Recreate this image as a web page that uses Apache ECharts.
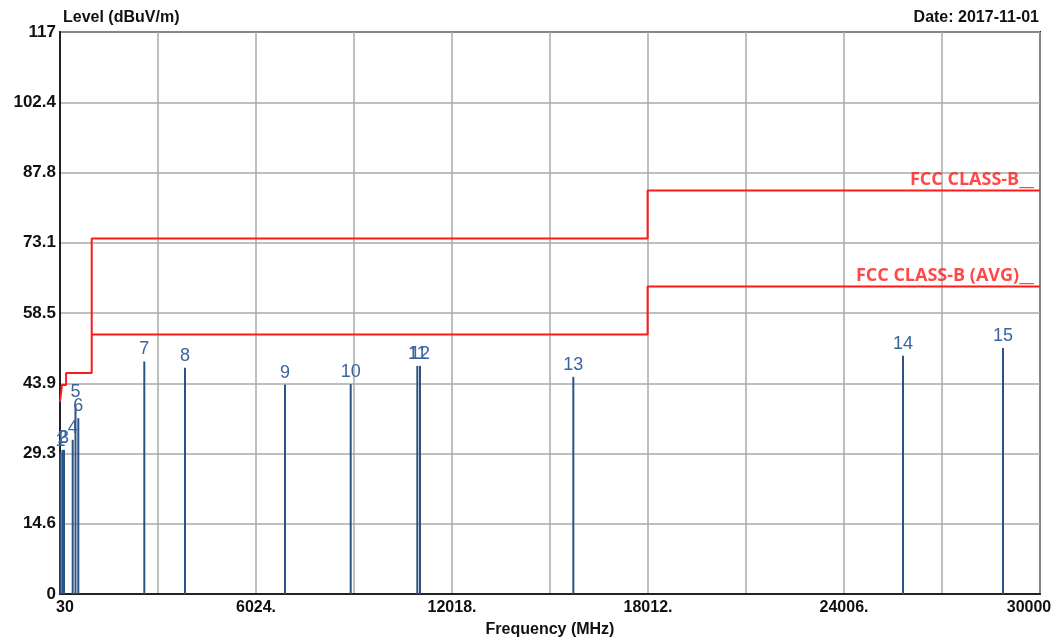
<!DOCTYPE html>
<html>
<head>
<meta charset="utf-8">
<script src="https://cdn.jsdelivr.net/npm/echarts@6/dist/echarts.min.js"></script>
<style>
  html, body { margin: 0; padding: 0; background: #fff; }
  #main { width: 1061px; height: 644px; }
</style>
</head>
<body>
<div id="main"></div>
<script>
// marker stems (frequency MHz, level dBuV/m)
var markerNames = ['1', '2', '3', '4', '5', '6', '7', '8', '9', '10', '11', '12', '13', '14', '15'];
var markerFreq = [45, 106, 152, 418, 504, 590, 2608, 3853, 6911, 8920, 10957, 11040, 15728, 25810, 28869];
var markerLevel = [29.4, 30.0, 30.0, 32.1, 39.6, 36.6, 48.4, 47.1, 43.6, 43.7, 47.5, 47.5, 45.2, 49.6, 51.2];

// limit lines, step shaped
var limitFreq = [30, 88, 88, 216, 216, 1000, 1000, 18000, 18000, 30000];
var limitLevel = [40, 40, 43.5, 43.5, 46, 46, 74, 74, 84, 84];
var avgFreq = [1000, 18000, 18000, 30000];
var avgLevel = [54, 54, 64, 64];
var limitNames = ['FCC CLASS-B__', 'FCC CLASS-B (AVG)__'];

var yTickLabels = ['0', '14.6', '29.3', '43.9', '58.5', '73.1', '87.8', '102.4', '117'];
var xTickLabels = ['30', '6024.', '12018.', '18012.', '24006.', '30000'];

var chart = echarts.init(document.getElementById('main'));

function pairs(xs, ys) {
    var out = [];
    for (var i = 0; i < xs.length; i++) out.push([xs[i], ys[i]]);
    return out;
}

// label anchors sit on the right end of each limit line
var limitEnds = [
    [limitFreq[limitFreq.length - 1], limitLevel[limitLevel.length - 1]],
    [avgFreq[avgFreq.length - 1], avgLevel[avgLevel.length - 1]]
];

var boldLbl = { color: '#111', fontWeight: 'bold', fontSize: 16, fontFamily: 'Liberation Sans' };

chart.setOption({
    animation: false,
    backgroundColor: '#fff',
    title: [
        { text: 'Level (dBuV/m)', left: 58, top: 5, textStyle: { fontSize: 16, fontWeight: 'bold', color: '#111', fontFamily: 'Liberation Sans' } },
        { text: 'Date: 2017-11-01', right: 17, top: 5, textStyle: { fontSize: 16, fontWeight: 'bold', color: '#111', fontFamily: 'Liberation Sans' } }
    ],
    grid: { left: 60, right: 21, top: 32, bottom: 50, show: true, borderColor: '#222', borderWidth: 2 },
    xAxis: {
        type: 'value', min: 30, max: 30000, interval: 2997,
        name: 'Frequency (MHz)', nameLocation: 'middle', nameGap: 28,
        nameTextStyle: boldLbl,
        axisLine: { lineStyle: { color: '#222', width: 2 } },
        axisTick: { show: false },
        splitLine: { lineStyle: { color: '#aaa', width: 1.5 } },
        axisLabel: Object.assign({}, boldLbl, {
            margin: 6,
            showMinLabel: true, showMaxLabel: true,
            formatter: function (v) {
                var k = Math.round((v - 30) / 2997);
                if (k % 2) return '';
                if (k === 0) return '{l|30}';
                if (k === 10) return '{r|30000}';
                return xTickLabels[k / 2];
            },
            rich: {
                l: Object.assign({}, boldLbl, { padding: [0, 0, 0, 10] }),
                r: Object.assign({}, boldLbl, { padding: [0, 22, 0, 0] })
            }
        })
    },
    yAxis: {
        type: 'value', min: 0, max: 117, interval: 14.625,
        axisLine: { show: true, lineStyle: { color: '#222', width: 2 } },
        axisTick: { show: false },
        splitLine: { lineStyle: { color: '#aaa', width: 1.5 } },
        axisLabel: Object.assign({}, boldLbl, {
            margin: 4, fontSize: 17,
            formatter: function (v) { return yTickLabels[Math.round(v / 14.625)]; }
        })
    },
    series: [
        {
            type: 'bar',
            barWidth: 2,
            data: pairs(markerFreq, markerLevel),
            itemStyle: { color: '#2c5283' },
            label: {
                show: true, position: 'top', distance: 3,
                color: '#3a64a0', fontSize: 18, fontFamily: 'Liberation Sans',
                formatter: function (p) { return markerNames[p.dataIndex]; }
            },
            z: 3
        },
        {
            type: 'line', data: pairs(limitFreq, limitLevel), showSymbol: false, symbol: 'none',
            lineStyle: { color: '#ff1a1a', width: 2 }, z: 4
        },
        {
            type: 'line', data: pairs(avgFreq, avgLevel), showSymbol: false, symbol: 'none',
            lineStyle: { color: '#ff1a1a', width: 2 }, z: 4
        },
        {
            type: 'scatter', data: limitEnds, symbolSize: 1,
            itemStyle: { color: 'rgba(0,0,0,0)' },
            label: {
                show: true, position: 'top', align: 'right', offset: [-6, 0], distance: 1,
                color: '#ff1a1a', fontWeight: 'bold', fontSize: 18, fontFamily: 'Open Sans',
                formatter: function (p) { return limitNames[p.dataIndex]; }
            },
            z: 5
        }
    ]
});
</script>
</body>
</html>
